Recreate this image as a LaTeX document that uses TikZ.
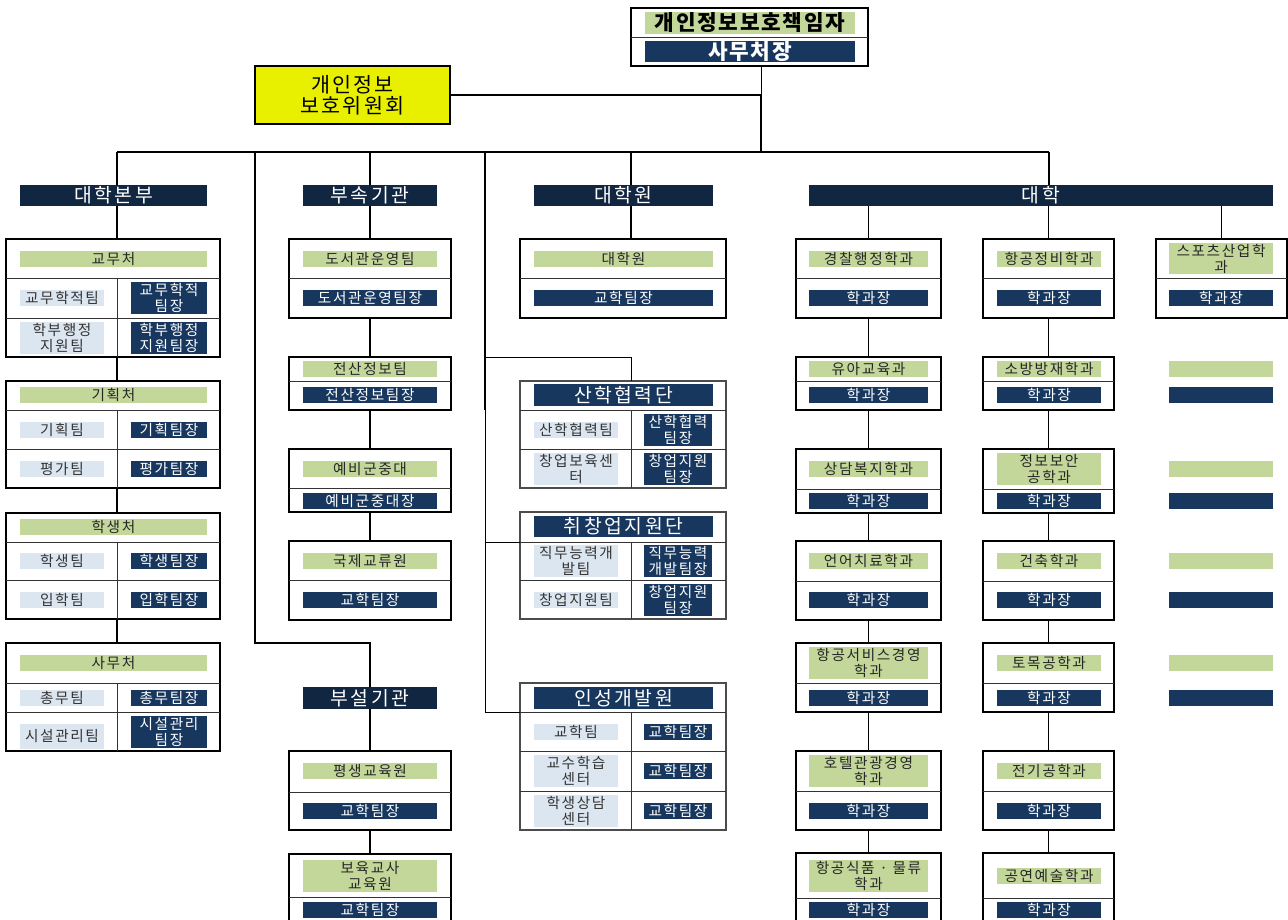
\documentclass[tikz,border=0pt]{standalone}
\usepackage{fontspec}
\newfontfamily\kr[LetterSpace=11]{Noto Sans CJK KR}
\newfontfamily\krh[LetterSpace=13]{Noto Sans CJK KR}
\newfontfamily\krt[LetterSpace=8]{Noto Sans CJK KR}
\newfontfamily\kry[LetterSpace=10]{Noto Sans CJK KR}
\newcommand\smallf{\kr\fontsize{11}{12}\selectfont}
\newcommand\hdf{\krh\fontsize{14.5}{16}\selectfont}
\newcommand\topf{\krt\fontsize{16}{17}\selectfont\bfseries}
\newcommand\yelf{\kry\fontsize{15.5}{15.5}\selectfont}
\definecolor{cgreen}{HTML}{C4D79B}
\definecolor{clb}{HTML}{DCE6F1}
\definecolor{cnavy}{HTML}{17375E}
\definecolor{chdr}{HTML}{112641}
\definecolor{cyel}{HTML}{E8F000}
\newcommand\mkbox[6]{\node[#6,minimum width={(#4-#2)*0.75pt},minimum height={(#5-#3)*0.75pt}] (#1) at ({(#2+#4)/2},{(#3+#5)/2}) {};}
\newcommand\mkcell[7]{\node[#6,minimum width={(#4-#2)*0.75pt},minimum height={(#5-#3)*0.75pt}] (#1) at ({(#2+#4)/2},{(#3+#5)/2}) {#7};}
\newcommand\hdv[3]{\draw[dv] (#1,#3) -- (#2,#3);}
\newcommand\vdv[3]{\draw[dv] (#1,#2) -- (#1,#3);}
\tikzset{
 obox/.style={draw=black,line width=1.3pt,inner sep=0pt,outer sep=0pt},
 tbox/.style={draw=black!70,line width=0.8pt,inner sep=0pt,outer sep=0pt},
 dv/.style={line width=0.7pt,draw=black!80},
 conn/.style={line width=1.3pt},
 tconn/.style={line width=0.7pt},
 cellbase/.style={inner sep=0pt,outer sep=0pt,align=center,font=\smallf},
 gc/.style={cellbase,fill=cgreen,text=black!85},
 lc/.style={cellbase,fill=clb,text=black!80},
 nc/.style={cellbase,fill=cnavy,text=white},
 hd/.style={inner sep=0pt,outer sep=0pt,fill=chdr,text=white,font=\hdf},
 sh/.style={inner sep=0pt,outer sep=0pt,fill=cnavy,text=white,font=\hdf},
 tg/.style={inner sep=0pt,outer sep=0pt,fill=cgreen,text=black,font=\topf},
 tn/.style={inner sep=0pt,outer sep=0pt,fill=cnavy,text=white,font=\topf},
 ybox/.style={draw=black,line width=1.2pt,fill=cyel,inner sep=0pt,outer sep=0pt,align=center,font=\yelf},
}
\begin{document}
\begin{tikzpicture}[x=0.75pt,y=-0.75pt]
\useasboundingbox (0,0) rectangle (1288,920);
\clip (0,0) rectangle (1288,920);
\fill[white] (0,0) rectangle (1288,920);
% ---------- top ----------
\mkbox{topbox}{631}{8}{868}{66}{obox}
\hdv{631}{868}{37}
\mkcell{topg}{645}{12}{855}{34}{tg}{개인정보보호책임자}
\mkcell{topn}{645}{41}{855}{62}{tn}{사무처장}
\mkcell{yel}{255}{66}{450}{124}{ybox}{개인정보\\보호위원회}
\coordinate (j1) at (761,95);
\coordinate (j3) at (761,124);
\coordinate (j2) at (761,152);
\draw[tconn] (topbox.south -| j1) -- (j3);
\draw[conn] (j1) -- (j2);
\draw[conn] (yel.east) -- (j1);
% bus
\coordinate (bA) at (117,152);
\coordinate (bB) at (255,152);
\coordinate (bC) at (370,152);
\coordinate (bD) at (485,152);
\coordinate (bE) at (631,152);
\coordinate (bF) at (1049,152);
\draw[conn] (bA) -- (bF);
% headers
\mkcell{h1}{20}{185}{207}{206}{hd}{대학본부}
\mkcell{h2}{303}{185}{437}{206}{hd}{부속기관}
\mkcell{h3}{534}{185}{713}{206}{hd}{대학원}
\mkcell{h4}{809}{185}{1273}{206}{hd}{대학}
\draw[conn] (bA) -- (h1.north -| bA);
\draw[conn] (bC) -- (h2.north -| bC);
\draw[conn] (bE) -- (h3.north -| bE);
\draw[conn] (bF) -- (h4.north -| bF);
% ---------- column 1 ----------
\coordinate (x1) at (117,0);
\mkbox{c1a}{6}{239}{220}{357}{obox}
\hdv{6}{220}{278}\hdv{6}{220}{318}\vdv{117}{278}{357}
\mkcell{c1a0}{20}{251}{207}{267}{gc}{교무처}
\mkcell{c1a1}{20}{290}{104}{306}{lc}{교무학적팀}
\mkcell{c1a2}{131}{282}{207}{314}{nc}{교무학적\\팀장}
\mkcell{c1a3}{20}{322}{104}{354}{lc}{학부행정\\지원팀}
\mkcell{c1a4}{131}{322}{207}{354}{nc}{학부행정\\지원팀장}
\mkbox{c1b}{6}{381}{220}{488}{obox}
\hdv{6}{220}{410}\hdv{6}{220}{449}\vdv{117}{410}{488}
\mkcell{c1b0}{20}{387}{207}{403}{gc}{기획처}
\mkcell{c1b1}{20}{422}{104}{438}{lc}{기획팀}
\mkcell{c1b2}{131}{422}{207}{438}{nc}{기획팀장}
\mkcell{c1b3}{20}{461}{104}{477}{lc}{평가팀}
\mkcell{c1b4}{131}{461}{207}{477}{nc}{평가팀장}
\mkbox{c1c}{6}{513}{220}{619}{obox}
\hdv{6}{220}{542}\hdv{6}{220}{580}\vdv{117}{542}{619}
\mkcell{c1c0}{20}{519}{207}{535}{gc}{학생처}
\mkcell{c1c1}{20}{553}{104}{569}{lc}{학생팀}
\mkcell{c1c2}{131}{553}{207}{569}{nc}{학생팀장}
\mkcell{c1c3}{20}{592}{104}{608}{lc}{입학팀}
\mkcell{c1c4}{131}{592}{207}{608}{nc}{입학팀장}
\mkbox{c1d}{6}{643}{220}{751}{obox}
\hdv{6}{220}{683}\hdv{6}{220}{712}\vdv{117}{683}{751}
\mkcell{c1d0}{20}{655}{207}{671}{gc}{사무처}
\mkcell{c1d1}{20}{690}{104}{706}{lc}{총무팀}
\mkcell{c1d2}{131}{690}{207}{706}{nc}{총무팀장}
\mkcell{c1d3}{20}{724}{104}{749}{lc}{시설관리팀}
\mkcell{c1d4}{131}{716}{207}{748}{nc}{시설관리\\팀장}
\draw[conn] (h1.south -| x1) -- (c1a.north -| x1);
\draw[conn] (c1a.south -| x1) -- (c1b.north -| x1);
\draw[conn] (c1b.south -| x1) -- (c1c.north -| x1);
\draw[conn] (c1c.south -| x1) -- (c1d.north -| x1);
% ---------- column 2 ----------
\mkbox{c2a}{289}{239}{451}{318}{obox}\hdv{289}{451}{278}
\mkcell{c2a0}{303}{251}{437}{267}{gc}{도서관운영팀}
\mkcell{c2a1}{303}{290}{437}{306}{nc}{도서관운영팀장}
\mkbox{c2b}{289}{357}{451}{410}{obox}\hdv{289}{451}{381}
\mkcell{c2b0}{303}{361}{437}{377}{gc}{전산정보팀}
\mkcell{c2b1}{303}{387}{437}{403}{nc}{전산정보팀장}
\mkbox{c2c}{289}{449}{451}{512}{obox}\hdv{289}{451}{488}
\mkcell{c2c0}{303}{461}{437}{477}{gc}{예비군중대}
\mkcell{c2c1}{303}{493}{437}{509}{nc}{예비군중대장}
\mkbox{c2d}{289}{541}{451}{620}{obox}\hdv{289}{451}{580}
\mkcell{c2d0}{303}{553}{437}{569}{gc}{국제교류원}
\mkcell{c2d1}{303}{592}{437}{608}{nc}{교학팀장}
\mkcell{h5}{303}{687}{437}{709}{hd}{부설기관}
\mkbox{c2e}{289}{751}{451}{830}{obox}\hdv{289}{451}{792}
\mkcell{c2e0}{303}{763}{437}{779}{gc}{평생교육원}
\mkcell{c2e1}{303}{803}{437}{819}{nc}{교학팀장}
\mkbox{c2f}{289}{854}{451}{945}{obox}\hdv{289}{451}{897}
\mkcell{c2f0}{303}{860}{437}{892}{gc}{보육교사\\교육원}
\mkcell{c2f1}{303}{902}{437}{918}{nc}{교학팀장}
\draw[conn] (h2.south) -- (c2a.north);
\draw[conn] (c2a.south) -- (c2b.north);
\draw[conn] (c2b.south) -- (c2c.north);
\draw[conn] (c2c.south) -- (c2d.north);
\coordinate (k0) at (255,643);
\draw[conn] (bB) -- (k0) -| (h5.north);
\draw[conn] (h5.south) -- (c2e.north);
\draw[conn] (c2e.south) -- (c2f.north);
% ---------- column 3 ----------
\coordinate (x3) at (631,0);
\mkbox{c3a}{520}{239}{726}{318}{obox}\hdv{520}{726}{278}
\mkcell{c3a0}{534}{251}{713}{267}{gc}{대학원}
\mkcell{c3a1}{534}{290}{713}{306}{nc}{교학팀장}
\draw[conn] (h3.south -| x3) -- (c3a.north -| x3);
\mkbox{c3b}{520}{381}{726}{488}{tbox}
\hdv{520}{726}{410}\hdv{520}{726}{449}\vdv{631}{410}{488}
\mkcell{c3b0}{534}{384}{713}{406}{sh}{산학협력단}
\mkcell{c3b1}{534}{422}{618}{438}{lc}{산학협력팀}
\mkcell{c3b2}{644}{414}{712}{446}{nc}{산학협력\\팀장}
\mkcell{c3b3}{534}{453}{618}{485}{lc}{창업보육센\\터}
\mkcell{c3b4}{644}{453}{712}{485}{nc}{창업지원\\팀장}
\mkbox{c3c}{520}{512}{726}{619}{tbox}
\hdv{520}{726}{542}\hdv{520}{726}{580}\vdv{631}{542}{619}
\mkcell{c3c0}{534}{516}{713}{537}{sh}{취창업지원단}
\mkcell{c3c1}{534}{545}{618}{577}{lc}{직무능력개\\발팀}
\mkcell{c3c2}{644}{545}{712}{577}{nc}{직무능력\\개발팀장}
\mkcell{c3c3}{534}{592}{618}{608}{lc}{창업지원팀}
\mkcell{c3c4}{644}{584}{712}{616}{nc}{창업지원\\팀장}
\mkbox{c3d}{520}{683}{726}{830}{tbox}
\hdv{520}{726}{712}\hdv{520}{726}{751}\hdv{520}{726}{791}\vdv{631}{712}{830}
\mkcell{c3d0}{534}{687}{713}{709}{sh}{인성개발원}
\mkcell{c3d1}{534}{724}{618}{740}{lc}{교학팀}
\mkcell{c3d2}{644}{724}{712}{740}{nc}{교학팀장}
\mkcell{c3d3}{534}{755}{618}{787}{lc}{교수학습\\센터}
\mkcell{c3d4}{644}{763}{712}{779}{nc}{교학팀장}
\mkcell{c3d5}{534}{795}{618}{827}{lc}{학생상담\\센터}
\mkcell{c3d6}{644}{803}{712}{819}{nc}{교학팀장}
\coordinate (k1) at (485,357);
\coordinate (k1b) at (485,410);
\coordinate (k2) at (485,542);
\coordinate (k3) at (485,712);
\draw[conn] (bD) -- (k1b);
\draw[tconn] (k1b) -- (k3) -- (k3 -| c3d.west);
\draw[tconn] (k1) -| (c3b.north -| x3);
\draw[tconn] (k2) -- (k2 -| c3c.west);
% ---------- column 4 ----------
\foreach \nm/\ya/\yb/\yc in {1/239/278/318,2/357/381/410,3/449/489/513,4/541/581/620,5/643/683/712,6/751/791/830,7/853/898/945}{
  \mkbox{ca\nm}{796}{\ya}{941}{\yc}{obox}\hdv{796}{941}{\yb}
  \mkbox{cb\nm}{983}{\ya}{1114}{\yc}{obox}\hdv{983}{1114}{\yb}
}
\mkbox{cc1}{1156}{239}{1287}{318}{obox}\hdv{1156}{1287}{278}
% col A cells
\mkcell{ca1g}{809}{251}{928}{267}{gc}{경찰행정학과}
\mkcell{ca1n}{809}{290}{928}{306}{nc}{학과장}
\mkcell{ca2g}{809}{361}{928}{377}{gc}{유아교육과}
\mkcell{ca2n}{809}{387}{928}{403}{nc}{학과장}
\mkcell{ca3g}{809}{461}{928}{477}{gc}{상담복지학과}
\mkcell{ca3n}{809}{493}{928}{509}{nc}{학과장}
\mkcell{ca4g}{809}{553}{928}{569}{gc}{언어치료학과}
\mkcell{ca4n}{809}{592}{928}{608}{nc}{학과장}
\mkcell{ca5g}{809}{647}{928}{679}{gc}{항공서비스경영\\학과}
\mkcell{ca5n}{809}{690}{928}{706}{nc}{학과장}
\mkcell{ca6g}{809}{755}{928}{787}{gc}{호텔관광경영\\학과}
\mkcell{ca6n}{809}{803}{928}{819}{nc}{학과장}
\mkcell{ca7g}{809}{860}{928}{892}{gc}{항공식품 · 물류\\학과}
\mkcell{ca7n}{809}{902}{928}{918}{nc}{학과장}
% col B cells
\mkcell{cb1g}{997}{251}{1101}{267}{gc}{항공정비학과}
\mkcell{cb1n}{997}{290}{1101}{306}{nc}{학과장}
\mkcell{cb2g}{997}{361}{1101}{377}{gc}{소방방재학과}
\mkcell{cb2n}{997}{387}{1101}{403}{nc}{학과장}
\mkcell{cb3g}{997}{453}{1101}{485}{gc}{정보보안\\공학과}
\mkcell{cb3n}{997}{493}{1101}{509}{nc}{학과장}
\mkcell{cb4g}{997}{553}{1101}{569}{gc}{건축학과}
\mkcell{cb4n}{997}{592}{1101}{608}{nc}{학과장}
\mkcell{cb5g}{997}{655}{1101}{671}{gc}{토목공학과}
\mkcell{cb5n}{997}{690}{1101}{706}{nc}{학과장}
\mkcell{cb6g}{997}{763}{1101}{779}{gc}{전기공학과}
\mkcell{cb6n}{997}{803}{1101}{819}{nc}{학과장}
\mkcell{cb7g}{997}{868}{1101}{884}{gc}{공연예술학과}
\mkcell{cb7n}{997}{902}{1101}{918}{nc}{학과장}
% col C cells
\mkcell{cc1g}{1169}{243}{1273}{274}{gc}{스포츠산업학\\과}
\mkcell{cc1n}{1169}{290}{1273}{306}{nc}{학과장}
\mkcell{cc2g}{1169}{361}{1273}{377}{gc}{}
\mkcell{cc2n}{1169}{387}{1273}{403}{nc}{}
\mkcell{cc3g}{1169}{461}{1273}{477}{gc}{}
\mkcell{cc3n}{1169}{493}{1273}{509}{nc}{}
\mkcell{cc4g}{1169}{553}{1273}{569}{gc}{}
\mkcell{cc4n}{1169}{592}{1273}{608}{nc}{}
\mkcell{cc5g}{1169}{655}{1273}{671}{gc}{}
\mkcell{cc5n}{1169}{690}{1273}{706}{nc}{}
% column 4 connectors
\draw[conn] (h4.south -| ca1.north) -- (ca1.north);
\draw[conn] (h4.south -| cb1.north) -- (cb1.north);
\draw[conn] (h4.south -| cc1.north) -- (cc1.north);
\foreach \a/\b in {1/2,2/3,3/4,4/5,5/6,6/7}{
  \draw[conn] (ca\a.south) -- (ca\b.north);
  \draw[conn] (cb\a.south) -- (cb\b.north);
}
\end{tikzpicture}
\end{document}
